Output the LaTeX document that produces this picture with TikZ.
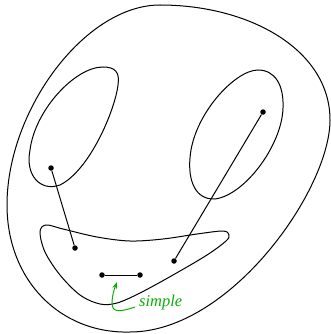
\documentclass[tikz,border=0pt]{standalone}
\usepackage{fontspec}
\setmainfont{Liberation Serif}
\usetikzlibrary{arrows.meta}
\definecolor{lblgreen}{RGB}{10,175,10}
\begin{document}
\begin{tikzpicture}[x=1pt,y=-1pt,
  blob/.style={draw,line width=1pt},
  dot/.style={circle,fill,inner sep=0pt,minimum size=5.5pt},
  edge/.style={line width=1pt},
  note/.style={text=lblgreen,font=\fontsize{16.5}{18}\selectfont\itshape,inner sep=0pt,anchor=west}]
\useasboundingbox (0,0) rectangle (331,334);
% outer region
\draw[blob] (160,5) .. controls (250,5) and (330,50) .. (330,120)
  .. controls (330,190) and (230,332) .. (130,332)
  .. controls (60,334) and (7,280) .. (7,205)
  .. controls (7,110) and (85,5) .. (160,5) -- cycle;
% left eye
\draw[blob] (103,67) .. controls (115,67) and (120,72) .. (118,85)
  .. controls (115,110) and (90,170) .. (60,185)
  .. controls (40,192) and (25,175) .. (30,150)
  .. controls (35,110) and (75,67) .. (103,67) -- cycle;
% right eye
\draw[blob] (258,70) .. controls (275,70) and (284,85) .. (283,108)
  .. controls (282,145) and (245,195) .. (215,199)
  .. controls (195,200) and (188,180) .. (190,158)
  .. controls (193,115) and (235,70) .. (258,70) -- cycle;
% mouth
\draw[blob] plot[smooth cycle,tension=0.55] coordinates {
 (46,225) (63,229) (97,237) (130,241) (163,239) (197,234) (223,231) (229,235) (226,241)
 (207,255) (173,275) (140,293) (117,303) (100,304) (80,295) (60,275) (45,252) (40,232)};
% points
\node[dot] (a) at (51,168) {};
\node[dot] (b) at (75,248) {};
\node[dot] (c) at (263,112) {};
\node[dot] (d) at (174,261) {};
\node[dot] (e) at (102,275) {};
\node[dot] (f) at (140,275) {};
\draw[edge] (a) -- (b);
\draw[edge] (c) -- (d);
\draw[edge] (e) -- (f);
% label
\node[note] (s) at (139,303) {simple};
\coordinate (tip) at (117,282);
\draw[lblgreen,line width=1pt,-{Stealth[length=7pt,width=5pt]}]
  (s.west) ++(-4,4) .. controls (120,312) and (112,313) .. (112,303)
  .. controls (112,296) and (114,290) .. (tip);
\end{tikzpicture}
\end{document}
